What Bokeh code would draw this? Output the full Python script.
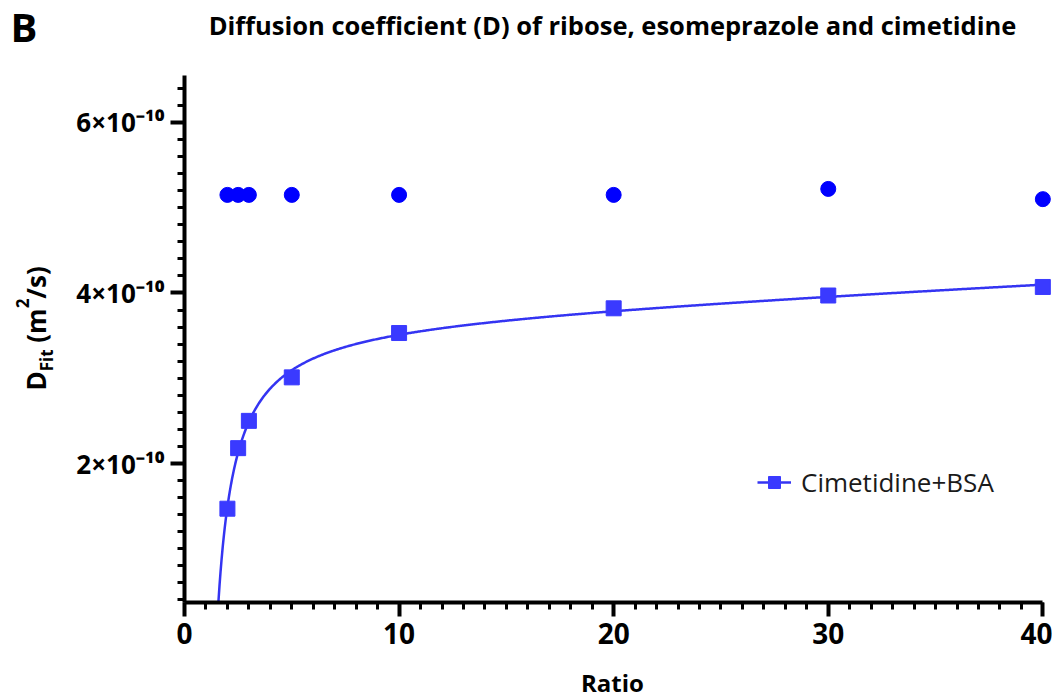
import numpy as np
from bokeh.plotting import figure
from bokeh.layouts import column, row
from bokeh.models import Range1d, FixedTicker, Legend, LegendItem, ColumnDataSource
from bokeh.core.properties import value
from bokeh.embed import file_html
from bokeh.resources import INLINE

# ---------------- data ----------------
ratio = [2, 2.5, 3, 5, 10, 20, 30, 40]
d_free = [5.15e-10, 5.15e-10, 5.15e-10, 5.15e-10, 5.15e-10, 5.15e-10, 5.22e-10, 5.10e-10]
d_bsa = [1.47e-10, 2.18e-10, 2.50e-10, 3.01e-10, 3.53e-10, 3.82e-10, 3.97e-10, 4.07e-10]
series_label = "Cimetidine+BSA"

x_ticks = [0, 10, 20, 30, 40]
x_tick_labels = ["0", "10", "20", "30", "40"]
y_ticks = [2e-10, 4e-10, 6e-10]
y_tick_labels = ["2×10⁻¹⁰", "4×10⁻¹⁰", "6×10⁻¹⁰"]

title_text = "Diffusion coefficient (D) of ribose, esomeprazole and cimetidine"
panel_text = "B"
x_label = "Ratio"

# ---------------- fitted curve (least squares on the data) ----------------
xa = np.array(ratio)
ya = np.array(d_bsa)
best = None
for c in np.linspace(-0.9, 3.0, 391):
    M = np.column_stack([np.ones_like(xa), 1.0 / (xa + c), xa])
    coef, *_ = np.linalg.lstsq(M, ya, rcond=None)
    r = np.sum((M @ coef - ya) ** 2)
    if best is None or r < best[0]:
        best = (r, c, coef)
_, c_fit, coef_fit = best
x_fit = np.linspace(1.0, 40, 800)
y_fit = coef_fit[0] + coef_fit[1] / (x_fit + c_fit) + coef_fit[2] * x_fit

# ---------------- layout constants (page pixels) ----------------
FONT = "Open Sans"
TOTAL_W = 1052
HEAD_H = 60
YLAB_W = 70
FRAME_L, FRAME_T, FRAME_B = 184, 75, 602
FOOT_T = 665
FW = 868
FH = FRAME_B - FRAME_T
MAIN_H = FOOT_T - HEAD_H
FOOT_H = 700 - FOOT_T
X0, X1 = 0, 40.45
Y0, Y1 = 0.37e-10, 6.55e-10
BASE_SHIFT = 0.4   # measured offset of rendered alphabetic baseline (in em)


def blank(w, h, y_lo=None, y_hi=None, border_top=0, border_bottom=0):
    y_lo = 0 if y_lo is None else y_lo
    y_hi = h if y_hi is None else y_hi
    f = figure(width=w, height=h, x_range=Range1d(0, w), y_range=Range1d(y_lo, y_hi),
               x_axis_type=None, y_axis_type=None, min_border=0,
               min_border_top=border_top, min_border_bottom=border_bottom, title=None,
               output_backend="svg", toolbar_location=None)
    f.outline_line_color = None
    f.xgrid.visible = False
    f.ygrid.visible = False
    return f


def add_text(f, x, y, txt, size, align="left", baseline="alphabetic", angle=0.0):
    f.text(x=[x], y=[y], text=[txt], angle=angle, text_align=align,
           text_baseline=baseline, text_font=value(FONT),
           text_font_style="bold", text_font_size=f"{size}px", text_color="black")


# header: panel letter and title (y given as page baseline)
head = blank(TOTAL_W, HEAD_H)
add_text(head, 10, HEAD_H - (42 - BASE_SHIFT * 40), panel_text, 40)
add_text(head, 612, HEAD_H - (35 - BASE_SHIFT * 25.5), title_text, 25.5, align="center")

# rotated y-axis label: D, Fit (subscript), (m, 2 (superscript), /s)
# its frame is aligned with the main frame (page y 75..602); data y = FOOT_T - page y
ylab = blank(YLAB_W, MAIN_H, y_lo=FOOT_T - FRAME_B, y_hi=FOOT_T - FRAME_T,
             border_top=FRAME_T - HEAD_H, border_bottom=FOOT_T - FRAME_B)
big, small = 26, 17
em = {"D": 0.74, "Fit": 1.28, "(m": 1.30, "2": 0.57, "/s)": 1.19}
gap_after = {"D": 0.0, "Fit": 7.0, "(m": 0.5, "2": 0.5, "/s)": 0.0}
pieces = [("D", big, 46), ("Fit", small, 53), ("(m", big, 46), ("2", small, 29), ("/s)", big, 46)]
ypos = 390.0
for txt, fs, base in pieces:
    w = em[txt] * fs
    cx = base - 0.39 * fs
    cy = ypos - w / 2
    add_text(ylab, cx, FOOT_T - cy, txt, fs, align="center", baseline="middle", angle=np.pi / 2)
    ypos -= w + gap_after[txt]

# footer: x-axis title
foot = blank(TOTAL_W, FOOT_H)
add_text(foot, 612, 700 - (692 - BASE_SHIFT * 24), x_label, 24, align="center")

# ---------------- main plot ----------------
p = figure(frame_width=FW, frame_height=FH,
           x_range=Range1d(X0, X1), y_range=Range1d(Y0, Y1),
           min_border_left=FRAME_L - YLAB_W, min_border_right=0,
           min_border_top=FRAME_T - HEAD_H, min_border_bottom=FOOT_T - FRAME_B,
           output_backend="svg", toolbar_location=None)
p.outline_line_color = None
p.xgrid.visible = False
p.ygrid.visible = False

for ax in (p.xaxis[0], p.yaxis[0]):
    ax.axis_line_width = 4
    ax.axis_line_color = "black"
    ax.major_tick_line_width = 4
    ax.minor_tick_line_width = 3
    ax.major_tick_line_color = "black"
    ax.minor_tick_line_color = "black"
    ax.major_tick_in = 0
    ax.minor_tick_in = 0
    ax.major_tick_out = 14
    ax.minor_tick_out = 7
    ax.major_label_text_font = FONT
    ax.major_label_text_font_style = "bold"
    ax.major_label_text_color = "black"

p.xaxis.ticker = FixedTicker(ticks=x_ticks, minor_ticks=list(range(0, 41)))
p.xaxis.major_label_overrides = dict(zip(x_ticks, x_tick_labels))
p.xaxis.major_label_text_font_size = "28px"
p.xaxis.major_label_standoff = 6
p.xaxis.bounds = (0, 40)

y_minor = [round(v, 1) * 1e-10 for v in np.arange(0.4, 6.41, 0.2)]
p.yaxis.ticker = FixedTicker(ticks=y_ticks, minor_ticks=y_minor)
p.yaxis.major_label_overrides = dict(zip(y_ticks, y_tick_labels))
p.yaxis.major_label_text_font_size = "26px"
p.yaxis.major_label_standoff = 6
p.yaxis.major_label_orientation = "horizontal"

src = ColumnDataSource(dict(ratio=ratio, d_free=d_free, d_bsa=d_bsa))
fit = ColumnDataSource(dict(x=x_fit, y=y_fit))

p.scatter("ratio", "d_free", source=src, marker="circle", size=15,
          fill_color="#0000ff", line_color="#0000ff")
line_r = p.line("x", "y", source=fit, line_color="#3434f2", line_width=2.5)
sq_r = p.scatter("ratio", "d_bsa", source=src, marker="square", size=15,
                 fill_color="#3a3aff", line_color="#3a3aff")

legend = Legend(items=[LegendItem(label=series_label, renderers=[line_r, sq_r])],
                location=(573, 102), padding=0, margin=0, spacing=0,
                border_line_alpha=0, background_fill_alpha=0,
                glyph_width=34, glyph_height=30, label_height=30,
                label_standoff=10, label_text_font=FONT,
                label_text_font_size="26px", label_text_color="#1a1a1a")
p.add_layout(legend)

layout = column(head, row(ylab, p), foot)
open("out.html", "w").write(file_html(layout, INLINE))
